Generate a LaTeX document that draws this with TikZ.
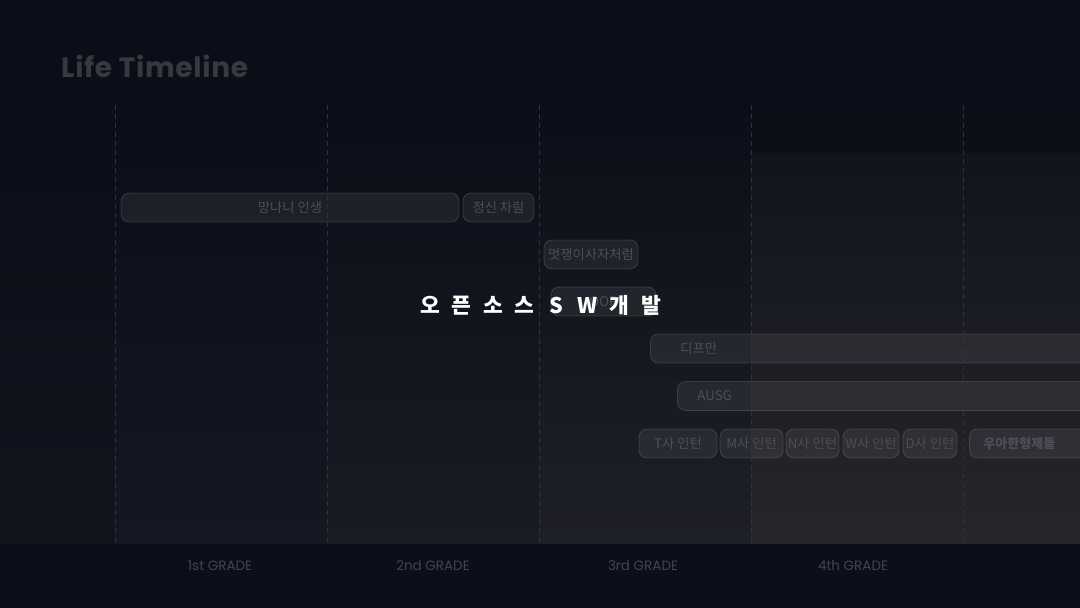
\documentclass[tikz,border=0pt]{standalone}
\usepackage{fontspec}
\setmainfont{Poppins}
\newfontfamily\kr{Noto Sans CJK KR}
\definecolor{bgc}{HTML}{0B0E18}
\definecolor{bandc}{HTML}{0C0F19}
\definecolor{cA}{HTML}{12151E}
\definecolor{cB}{HTML}{151822}
\definecolor{cC}{HTML}{1A1C24}
\definecolor{cD}{HTML}{1F2027}
\definecolor{cEtop}{HTML}{12141C}
\definecolor{cEmid}{HTML}{1B1C23}
\definecolor{cE}{HTML}{26272C}
\definecolor{gridc}{HTML}{30333C}
\definecolor{labelc}{HTML}{4E4F56}
\definecolor{titlec}{HTML}{38393F}
\definecolor{gradec}{HTML}{43454D}
\newcommand{\ossch}[1]{\makebox[31.6pt]{#1}}
\tikzset{
  bar/.style={rounded corners=8pt, fill=white, fill opacity=0.065, draw=white, draw opacity=0.13,
    line width=0.9pt, text=labelc, text opacity=1, inner sep=0pt, minimum height=29pt,
    font=\kr\fontsize{13.3}{15}\selectfont},
  gridline/.style={draw=gridc, line width=0.9pt, dash pattern=on 5pt off 4pt},
  grade/.style={text=gradec, font=\fontsize{13.5}{15}\selectfont, inner sep=0pt}
}
\begin{document}
\begin{tikzpicture}[x=1pt,y=-1pt]
\useasboundingbox (0,0) rectangle (1080,608);
% background
\fill[bgc] (0,0) rectangle (1080,608);
\shade[top color=bgc, bottom color=cA] (0,105) rectangle (115,544);
\shade[top color=bgc, bottom color=cB] (115,105) rectangle (327,544);
\shade[top color=bgc, middle color=cC!65!bgc, bottom color=cC] (327,105) rectangle (539,544);
\shade[top color=bgc, middle color=cD!70!bgc, bottom color=cD] (539,105) rectangle (751,544);
\fill[bgc!90!cEtop] (751,105) rectangle (1080,153);
\shade[top color=cEtop, middle color=cEmid, bottom color=cE] (751,153) rectangle (1080,544);
\fill[bandc] (0,544) rectangle (1080,608);
% bars
\node[bar, minimum width=338pt] (mangnani) at (290,207.5) {망나니 인생};
\node[bar, minimum width=71pt] (jeongsin) at (498.5,207.5) {정신 차림};
\node[bar, minimum width=94pt] (likelion) at (591,254.5) {멋쟁이사자처럼};
\node[bar, minimum width=105pt] (oop) at (603.5,301.5) {OOP};
\node[bar, anchor=west, text width=390pt, inner xsep=30pt, align=left] (dipm) at (650,348.5) {디프만};
\node[bar, anchor=west, text width=383pt, inner xsep=20pt, align=left] (ausg) at (677,396) {AUSG};
\node[bar, minimum width=78pt] (tintern) at (678,443.5) {T사 인턴};
\node[bar, minimum width=63pt] (mintern) at (751.5,443.5) {M사 인턴};
\node[bar, minimum width=53pt] (nintern) at (812.5,443.5) {N사 인턴};
\node[bar, minimum width=56pt] (wintern) at (871,443.5) {W사 인턴};
\node[bar, minimum width=54pt] (dintern) at (930,443.5) {D사 인턴};
\node[bar, anchor=west, text width=101pt, inner xsep=14pt, align=left, font=\kr\bfseries\fontsize{13}{15}\selectfont] (woowa) at (969,443.5) {우아한형제들};
% grid lines
\foreach \gx in {115,327,539,751,963} {
  \draw[gridline] (\gx,105) -- (\gx,544);
}
% title
\node[anchor=base west, inner sep=0pt, text=titlec, font=\bfseries\fontsize{28}{32}\selectfont\addfontfeature{LetterSpace=2.5}] (title) at (61,77) {Life Timeline};
% grades
\node[grade] (g1) at (220,566) {1st GRADE};
\node[grade] (g2) at (433,566) {2nd GRADE};
\node[grade] (g3) at (643,566) {3rd GRADE};
\node[grade] (g4) at (853,566) {4th GRADE};
% main caption
\node[text=white, inner sep=0pt, font=\kr\bfseries\fontsize{21.5}{24}\selectfont] (oss) at (540.5,305)
  {\ossch{오}\ossch{픈}\ossch{소}\ossch{스}\ossch{S}\ossch{W}\ossch{개}\ossch{발}};
\end{tikzpicture}
\end{document}
